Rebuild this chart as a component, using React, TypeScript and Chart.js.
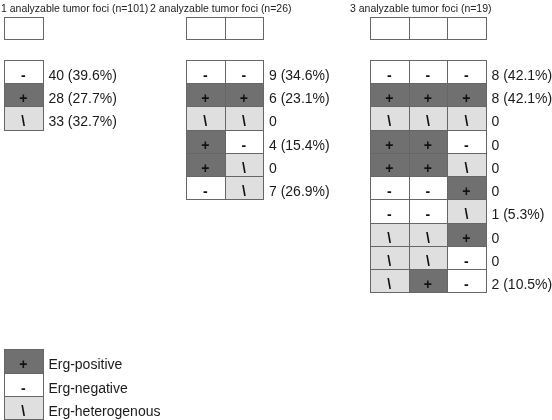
import React, { useEffect, useRef } from "react";
import { Chart, registerables } from "chart.js";

Chart.register(...registerables);

// ---------- data ----------
const panelTitles = [
  "1 analyzable tumor foci (n=101)",
  "2 analyzable tumor foci (n=26)",
  "3 analyzable tumor foci (n=19)",
];
const panelTotals = [101, 26, 19];

const panel1Patterns = [["-"], ["+"], ["\\"]];
const panel1Counts = [40, 28, 33];

const panel2Patterns = [
  ["-", "-"],
  ["+", "+"],
  ["\\", "\\"],
  ["+", "-"],
  ["+", "\\"],
  ["-", "\\"],
];
const panel2Counts = [9, 6, 0, 4, 0, 7];

const panel3Patterns = [
  ["-", "-", "-"],
  ["+", "+", "+"],
  ["\\", "\\", "\\"],
  ["+", "+", "-"],
  ["+", "+", "\\"],
  ["-", "-", "+"],
  ["-", "-", "\\"],
  ["\\", "\\", "+"],
  ["\\", "\\", "-"],
  ["\\", "+", "-"],
];
const panel3Counts = [8, 8, 0, 0, 0, 0, 1, 0, 0, 2];

const legendSymbols = ["+", "-", "\\"];
const legendLabels = ["Erg-positive", "Erg-negative", "Erg-heterogenous"];

// ---------- layout / style ----------
const COL_PX = 38.6;
const ROW_PX = 23.25;
const PANEL_X = [0, 4.715, 9.48];
const TITLE_X = [-0.078, 3.782, 8.964];
const TITLE_Y = -2.06;
const HEADER_TOP = -1.85;
const HEADER_H = 0.95;
const LEGEND_TOP = 12.45;
const BASELINE_IN_ROW = 0.86;
const LABEL_GAP = 0.15;

const FILL: Record<string, string> = {
  "+": "#707070",
  "-": "#ffffff",
  "\\": "#dfdfdf",
};
const BORDER = "#666666";
const FONT_FAMILY = "'Liberation Sans', Arial, Helvetica, sans-serif";

function fmt(count: number, total: number): string {
  if (count === 0) return "0";
  return `${count} (${((count / total) * 100).toFixed(1)}%)`;
}

const panels = [
  { patterns: panel1Patterns, counts: panel1Counts },
  { patterns: panel2Patterns, counts: panel2Counts },
  { patterns: panel3Patterns, counts: panel3Counts },
];

const cellPlugin = {
  id: "cellTable",
  afterDraw(chart: any) {
    const ctx = chart.ctx as CanvasRenderingContext2D;
    const xs = chart.scales.x;
    const ys = chart.scales.y;
    const px = (v: number) => Math.round(xs.getPixelForValue(v)) + 0.5;
    const py = (v: number) => Math.round(ys.getPixelForValue(v)) + 0.5;

    const drawCell = (x0: number, y0: number, w: number, h: number, sym: string | null) => {
      const l = px(x0), r = px(x0 + w), t = py(y0), b = py(y0 + h);
      ctx.fillStyle = sym ? FILL[sym] : "#ffffff";
      ctx.fillRect(l, t, r - l, b - t);
      ctx.strokeStyle = BORDER;
      ctx.lineWidth = 1;
      ctx.strokeRect(l, t, r - l, b - t);
      if (sym) {
        ctx.fillStyle = "#111111";
        ctx.font = `bold 14px ${FONT_FAMILY}`;
        ctx.textAlign = "center";
        ctx.textBaseline = "alphabetic";
        ctx.fillText(sym, xs.getPixelForValue(x0 + w / 2), ys.getPixelForValue(y0 + BASELINE_IN_ROW * h));
      }
    };

    ctx.save();
    panels.forEach((p, pi) => {
      const ncol = p.patterns[0].length;
      const x0 = PANEL_X[pi];
      // title
      ctx.fillStyle = "#222222";
      ctx.font = `10.5px ${FONT_FAMILY}`;
      ctx.textAlign = "left";
      ctx.textBaseline = "alphabetic";
      ctx.fillText(panelTitles[pi], xs.getPixelForValue(TITLE_X[pi]), ys.getPixelForValue(TITLE_Y));
      // header boxes
      for (let c = 0; c < ncol; c++) drawCell(x0 + c, HEADER_TOP, 1, HEADER_H, null);
      // cells
      p.patterns.forEach((row, ri) => {
        row.forEach((sym, ci) => drawCell(x0 + ci, ri, 1, 1, sym));
        ctx.fillStyle = "#1a1a1a";
        ctx.font = `14px ${FONT_FAMILY}`;
        ctx.textAlign = "left";
        ctx.textBaseline = "alphabetic";
        ctx.fillText(
          fmt(p.counts[ri], panelTotals[pi]),
          xs.getPixelForValue(x0 + ncol + LABEL_GAP),
          ys.getPixelForValue(ri + BASELINE_IN_ROW)
        );
      });
    });
    // legend
    legendSymbols.forEach((sym, i) => {
      drawCell(PANEL_X[0], LEGEND_TOP + i, 1, 1, sym);
      ctx.fillStyle = "#1a1a1a";
      ctx.font = `14px ${FONT_FAMILY}`;
      ctx.textAlign = "left";
      ctx.textBaseline = "alphabetic";
      ctx.fillText(
        legendLabels[i],
        xs.getPixelForValue(PANEL_X[0] + 1 + LABEL_GAP),
        ys.getPixelForValue(LEGEND_TOP + i + BASELINE_IN_ROW)
      );
    });
    ctx.restore();
  },
};

export default function App() {
  const ref = useRef<HTMLCanvasElement | null>(null);
  useEffect(() => {
    if (!ref.current) return;
    const chart = new Chart(ref.current, {
      type: "scatter",
      data: { datasets: [{ data: [], pointRadius: 0 }] },
      options: {
        animation: false,
        responsive: false,
        layout: { padding: 0 },
        plugins: { legend: { display: false }, tooltip: { enabled: false } },
        scales: {
          x: { type: "linear", display: false, min: -4 / COL_PX, max: 548 / COL_PX },
          y: { type: "linear", display: false, reverse: true, min: -60 / ROW_PX, max: 360 / ROW_PX },
        },
      },
      plugins: [cellPlugin],
    } as any);
    return () => chart.destroy();
  }, []);
  return (
    <div style={{ position: "absolute", left: 0, top: 0, width: 552, height: 420, background: "#fff" }}>
      <canvas ref={ref} width={552} height={420} style={{ display: "block" }} />
    </div>
  );
}
